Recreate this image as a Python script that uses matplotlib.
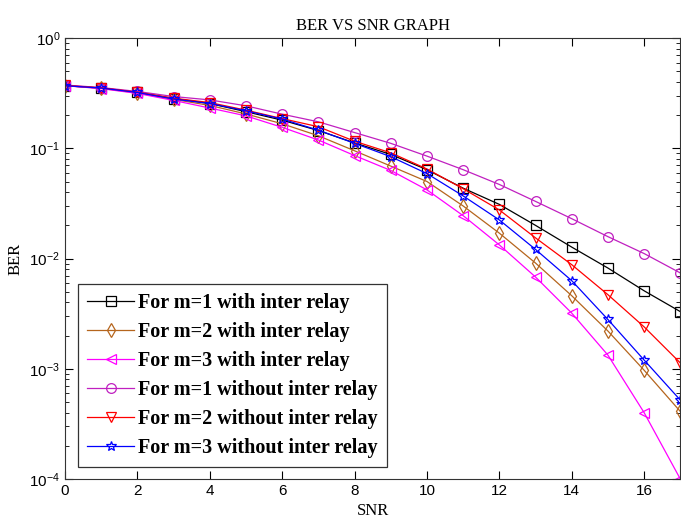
import numpy as np
import matplotlib
matplotlib.use("Agg")
import matplotlib.pyplot as plt
from matplotlib.ticker import LogLocator, NullFormatter

snr = list(range(18))

m1_with = [0.37, 0.352, 0.322, 0.283, 0.255, 0.215, 0.18, 0.145, 0.112, 0.088,
           0.064, 0.0435, 0.031, 0.020, 0.0127, 0.0082, 0.0051, 0.0033]
m2_with = [0.37, 0.35, 0.318, 0.278, 0.245, 0.205, 0.167, 0.130, 0.095, 0.069,
           0.050, 0.030, 0.017, 0.0091, 0.0046, 0.0022, 0.00097, 0.00041]
m3_with = [0.37, 0.348, 0.315, 0.272, 0.232, 0.197, 0.155, 0.119, 0.086, 0.063,
           0.042, 0.0245, 0.0133, 0.0068, 0.0032, 0.00133, 0.0004, 0.0001]
m1_without = [0.375, 0.356, 0.328, 0.295, 0.275, 0.243, 0.204, 0.174, 0.139, 0.111,
              0.085, 0.064, 0.047, 0.033, 0.023, 0.0158, 0.0111, 0.0074]
m2_without = [0.372, 0.354, 0.323, 0.285, 0.26, 0.222, 0.186, 0.157, 0.116, 0.091,
              0.065, 0.043, 0.0276, 0.0154, 0.0088, 0.0047, 0.0024, 0.00113]
m3_without = [0.37, 0.352, 0.321, 0.28, 0.255, 0.219, 0.184, 0.146, 0.111, 0.084,
              0.059, 0.037, 0.0224, 0.0121, 0.0063, 0.0028, 0.0012, 0.00052]

series = [
    (m1_with,    "s", "#000000", "For m=1 with inter relay"),
    (m2_with,    "d", "#B5651D", "For m=2 with inter relay"),
    (m3_with,    "<", "#FF00FF", "For m=3 with inter relay"),
    (m1_without, "o", "#C020C0", "For m=1 without inter relay"),
    (m2_without, "v", "#FF0000", "For m=2 without inter relay"),
    (m3_without, "*", "#0000FF", "For m=3 without inter relay"),
]

fig = plt.figure(figsize=(6.81, 5.29), dpi=100)
ax = fig.add_axes([0.0954, 0.0945, 0.9036, 0.8335])

for vals, mk, col, lab in series:
    ax.semilogy(snr, vals, marker=mk, color=col, lw=0.9, ms=7,
                mfc="none", mec=col, mew=0.9, label=lab)

ax.set_xlim(0, 17)
ax.set_ylim(1e-4, 1)
ax.set_xticks(range(0, 17, 2))
ax.yaxis.set_minor_locator(LogLocator(base=10, subs=np.arange(2, 10)))
ax.yaxis.set_minor_formatter(NullFormatter())
ax.tick_params(which="both", direction="in", top=True, right=True,
               labelsize=11)
ax.tick_params(which="major", length=6)
ax.tick_params(which="minor", length=3)
for lbl in ax.get_xticklabels() + ax.get_yticklabels():
    lbl.set_family("Liberation Sans")
for s in ax.spines.values():
    s.set_color("#333333")

ax.set_title("BER VS SNR GRAPH", family="Liberation Serif", fontsize=12)
ax.set_xlabel("SNR", family="Liberation Serif", fontsize=12)
ax.set_ylabel("BER", family="Liberation Serif", fontsize=12)

leg = ax.legend(loc="lower left", bbox_to_anchor=(0.021, 0.027), borderaxespad=0,
                fancybox=False, framealpha=1, edgecolor="#333333", borderpad=0.45,
                labelspacing=0.45, handlelength=2.35, handletextpad=0.2,
                prop={"family": "Liberation Serif", "weight": "bold", "size": 14.5})
leg.get_frame().set_linewidth(0.9)

fig.savefig("out.png", dpi=100)
